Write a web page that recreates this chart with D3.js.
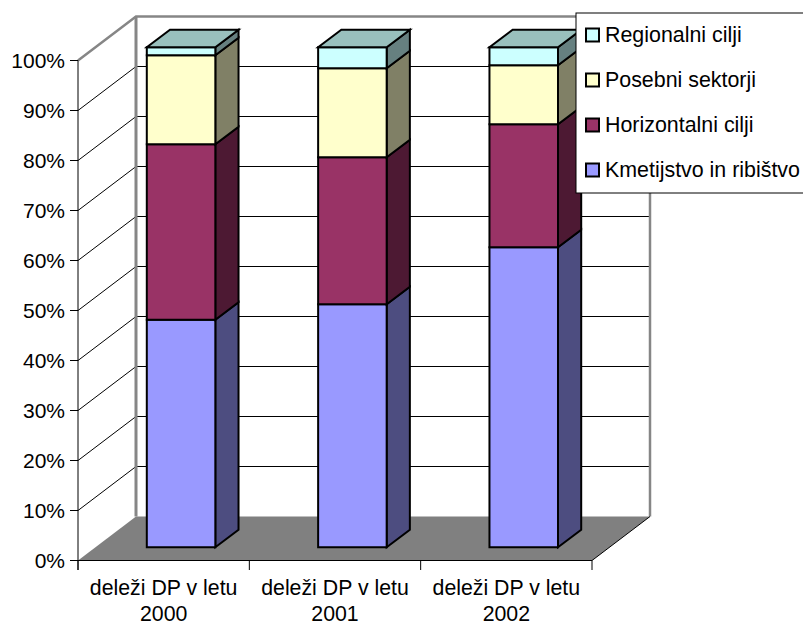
<!DOCTYPE html>
<html>
<head>
<meta charset="utf-8">
<script src="https://cdn.jsdelivr.net/npm/d3@7"></script>
<style>
  html, body { margin: 0; padding: 0; background: #fff; }
  svg { display: block; }
  text { font-family: "Liberation Sans", Arial, sans-serif; fill: #000; }
</style>
</head>
<body>
<svg id="grafikon" width="803" height="623"></svg>
<script>
const kategorije = ["deleži DP v letu 2000", "deleži DP v letu 2001", "deleži DP v letu 2002"];
const serije = ["Kmetijstvo in ribištvo", "Horizontalni cilji", "Posebni sektorji", "Regionalni cilji"];
const kmetijstvo = [45.5, 48.6, 60.0];
const horizontalni = [35.1, 29.4, 24.6];
const posebni = [17.8, 17.8, 11.8];
const regionalni = [1.6, 4.2, 3.6];
const barve = ["#9999ff", "#993366", "#ffffcc", "#ccffff"];
const stranskeBarve = ["#4d4d80", "#4d1933", "#808066", "#668080"];
const vrhBarva = "#99c0bd";
const oznakeY = d3.range(0, 101, 10);

const svg = d3.select("#grafikon");

const x = d3.scaleBand().domain(kategorije).range([78, 592]).paddingInner(0.6).paddingOuter(0.3);
const xOs = d3.scaleBand().domain(kategorije).range([78, 592]);
const y = d3.scaleLinear().domain([0, 100]).range([560.5, 60.5]);

// globina 3D: 0 = spredaj, 1 = zadnja stena
const globX = d3.scaleLinear().domain([0, 1]).range([0, 58]);
const globY = d3.scaleLinear().domain([0, 1]).range([0, -44]);
const tocka = (px, vr, g) => [px + globX(g), y(vr) + globY(g)];
const crta = d3.line();
const poli = pts => crta(pts) + "Z";

// tla
svg.append("path")
  .attr("d", poli([tocka(78, 0, 0), tocka(592, 0, 0), tocka(592, 0, 1), tocka(78, 0, 1)]))
  .attr("fill", "#808080");

// mreza
oznakeY.filter(v => v > 0).forEach(v => {
  svg.append("path")
    .attr("d", crta([tocka(78, v, 0), tocka(78, v, 1), tocka(592, v, 1)]))
    .attr("fill", "none").attr("stroke", "#000").attr("stroke-width", 1);
});

// stene
svg.append("path")
  .attr("d", crta([tocka(78, 100, 0), tocka(78, 100, 1), tocka(592, 100, 1), tocka(592, 0, 1)]))
  .attr("fill", "none").attr("stroke", "#868686").attr("stroke-width", 2.5);
svg.append("path")
  .attr("d", crta([tocka(78, 100, 1), tocka(78, 0, 1)]))
  .attr("fill", "none").attr("stroke", "#868686").attr("stroke-width", 3);
svg.append("path")
  .attr("d", crta([tocka(592, 0, 0), tocka(592, 0, 1)]))
  .attr("fill", "none").attr("stroke", "#000").attr("stroke-width", 1);

// stolpci
const tabela = kategorije.map((k, i) => ({
  k,
  [serije[0]]: kmetijstvo[i],
  [serije[1]]: horizontalni[i],
  [serije[2]]: posebni[i],
  [serije[3]]: regionalni[i]
}));
const sklad = d3.stack().keys(serije)(tabela);
const g0 = 0.3, g1 = 0.7;

kategorije.forEach((k, i) => {
  const x0 = x(k), x1 = x(k) + x.bandwidth();
  const skupina = svg.append("g").attr("stroke", "#000").attr("stroke-width", 2).attr("stroke-linejoin", "miter");
  sklad.forEach((s, j) => {
    const [a, b] = s[i];
    skupina.append("path")
      .attr("d", poli([tocka(x1, a, g0), tocka(x1, a, g1), tocka(x1, b, g1), tocka(x1, b, g0)]))
      .attr("fill", stranskeBarve[j]);
    skupina.append("path")
      .attr("d", poli([tocka(x0, a, g0), tocka(x1, a, g0), tocka(x1, b, g0), tocka(x0, b, g0)]))
      .attr("fill", barve[j]);
  });
  skupina.append("path")
    .attr("d", poli([tocka(x0, 100, g0), tocka(x1, 100, g0), tocka(x1, 100, g1), tocka(x0, 100, g1)]))
    .attr("fill", vrhBarva);
});

// osi
const osY = svg.append("g");
osY.append("line").attr("x1", 78).attr("x2", 78).attr("y1", y(100)).attr("y2", 570).attr("stroke", "#000");
oznakeY.forEach(v => {
  osY.append("line").attr("x1", 70).attr("x2", 78).attr("y1", y(v)).attr("y2", y(v)).attr("stroke", "#000");
  osY.append("text").attr("x", 65).attr("y", y(v)).attr("dy", "0.35em")
    .attr("text-anchor", "end").attr("font-size", 21).text(v + "%");
});

const osX = svg.append("g");
osX.append("line").attr("x1", 78).attr("x2", 592).attr("y1", 560.5).attr("y2", 560.5).attr("stroke", "#000");
[78, ...kategorije.map(k => xOs(k) + xOs.bandwidth())].forEach(px => {
  osX.append("line").attr("x1", px).attr("x2", px).attr("y1", 560.5).attr("y2", 570).attr("stroke", "#000");
});
kategorije.forEach(k => {
  const cx = xOs(k) + xOs.bandwidth() / 2;
  const deli = [k.slice(0, k.lastIndexOf(" ")), k.slice(k.lastIndexOf(" ") + 1)];
  deli.forEach((d, i) => {
    osX.append("text").attr("x", cx).attr("y", 595 + i * 26)
      .attr("text-anchor", "middle").attr("font-size", 21.3).text(d);
  });
});

// legenda
const leg = svg.append("g");
leg.append("rect").attr("x", 576).attr("y", 13).attr("width", 240).attr("height", 180)
  .attr("fill", "#fff").attr("stroke", "#000").attr("stroke-width", 1);
const vrsticeY = d3.scalePoint().domain(serije.slice().reverse()).range([35, 170]);
serije.forEach((s, j) => {
  const sy = vrsticeY(s);
  leg.append("rect").attr("x", 586).attr("y", sy - 6.5).attr("width", 13).attr("height", 13)
    .attr("fill", barve[j]).attr("stroke", "#000").attr("stroke-width", 2);
  leg.append("text").attr("x", 605).attr("y", sy).attr("dy", "0.35em").attr("font-size", 21.4).text(s);
});
</script>
</body>
</html>
